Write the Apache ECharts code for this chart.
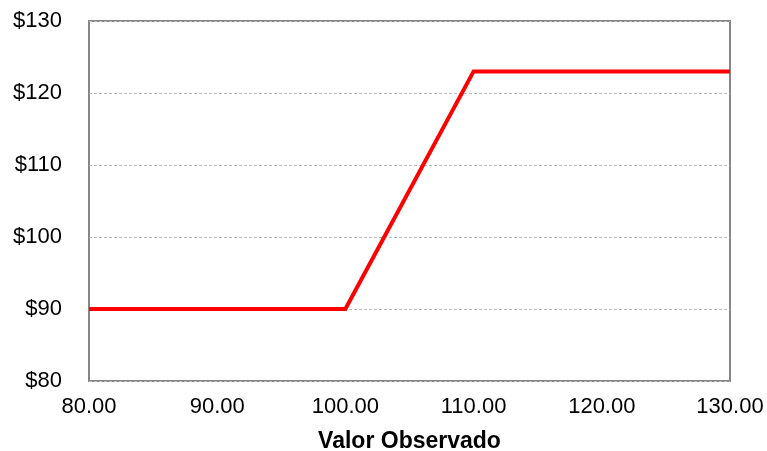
<!DOCTYPE html>
<html>
<head>
<meta charset="utf-8">
<style>
  html, body { margin: 0; padding: 0; background: #ffffff; }
  #chart { width: 767px; height: 451px; }
</style>
<script src="https://cdn.jsdelivr.net/npm/echarts@6/dist/echarts.min.js"></script>
</head>
<body>
<div id="chart"></div>
<script>
// Payoff curve: observed value vs. payment
const observedValues = [80, 100, 110, 130];
const payments = [90, 90, 123, 123];
const xAxisTitle = 'Valor Observado';
const xRange = [80, 130, 10];
const yRange = [80, 130, 10];

const seriesData = observedValues.map((x, i) => [x, payments[i]]);

const chart = echarts.init(document.getElementById('chart'), null, { renderer: 'canvas' });
const font = '"Liberation Sans", Arial, sans-serif';

chart.setOption({
  animation: false,
  backgroundColor: '#ffffff',
  grid: {
    left: 89, right: 37, top: 21, bottom: 70,
    outerBoundsMode: 'none',
    containLabel: false,
    show: true,
    borderColor: '#868686',
    borderWidth: 2,
    backgroundColor: 'transparent'
  },
  xAxis: {
    type: 'value',
    min: xRange[0], max: xRange[1], interval: xRange[2],
    name: xAxisTitle,
    nameLocation: 'middle',
    nameGap: 49,
    nameTextStyle: { fontFamily: font, fontSize: 23, fontWeight: 'bold', color: '#000' },
    axisLine: { show: false },
    axisTick: { show: false },
    splitLine: { show: false },
    axisLabel: {
      fontFamily: font, fontSize: 22, color: '#000', margin: 15,
      formatter: v => v.toFixed(2)
    }
  },
  yAxis: {
    type: 'value',
    min: yRange[0], max: yRange[1], interval: yRange[2],
    axisLine: { show: false },
    axisTick: { show: false },
    splitLine: { show: true, lineStyle: { color: '#b8b8b8', type: [3, 2], width: 1 } },
    axisLabel: {
      fontFamily: font, fontSize: 22, color: '#000', margin: 27,
      formatter: v => '$' + v
    }
  },
  series: [{
    type: 'line',
    data: seriesData,
    symbol: 'none',
    lineStyle: { color: '#ff0000', width: 4, cap: 'butt', join: 'miter' },
    z: 5
  }]
});
</script>
</body>
</html>
